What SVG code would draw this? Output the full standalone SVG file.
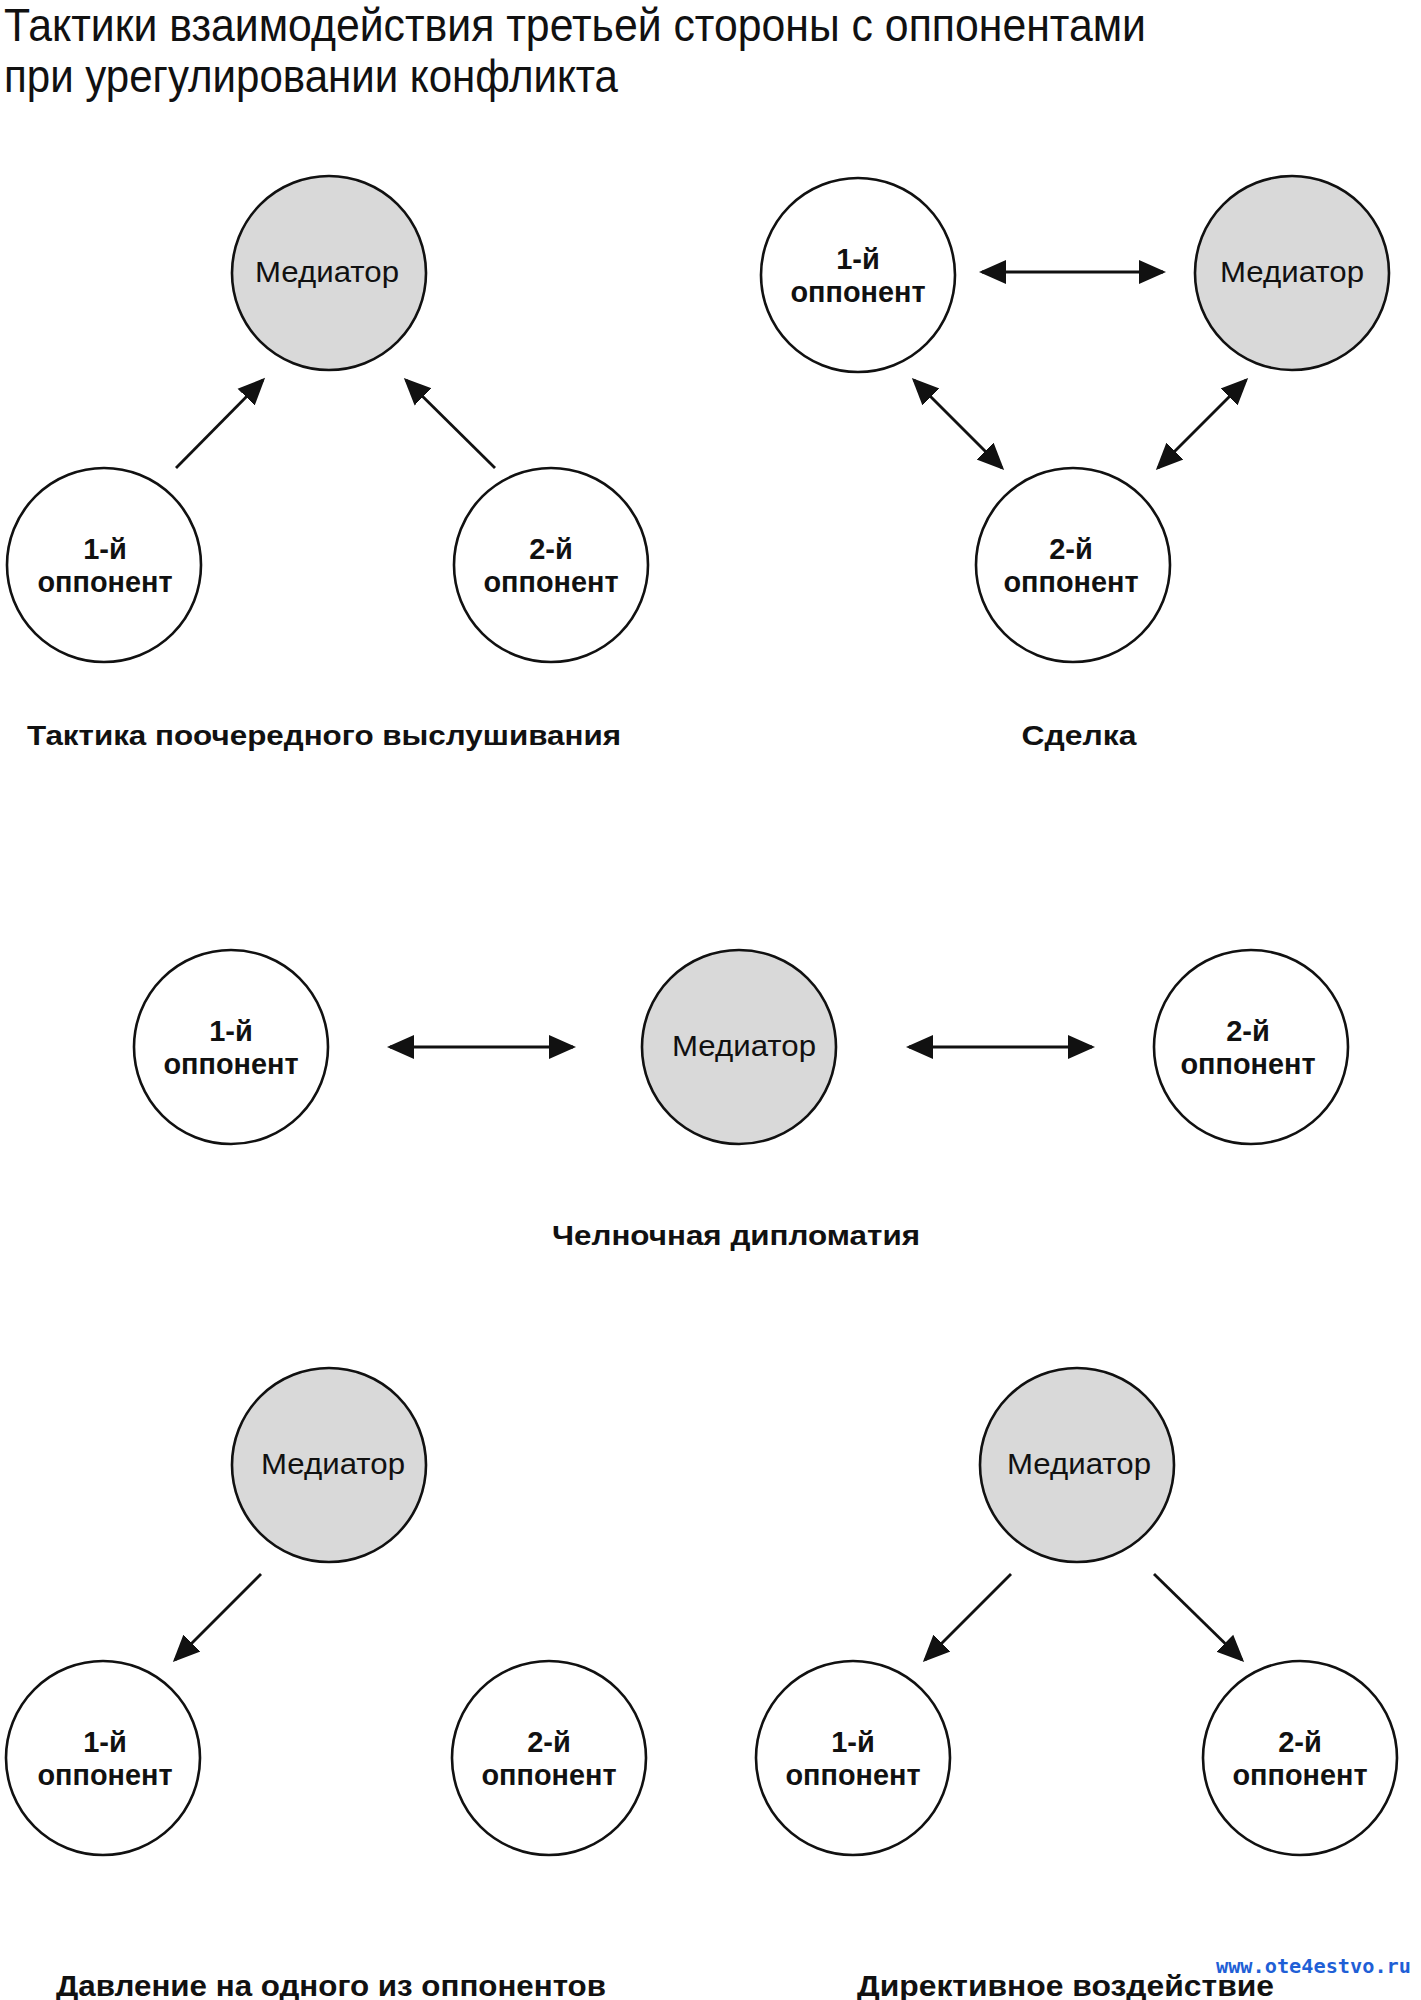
<svg xmlns="http://www.w3.org/2000/svg" width="1421" height="2000" viewBox="0 0 1421 2000">
<style>
.bg{fill:#ffffff}
.med{fill:#d9d9d9;stroke:#111;stroke-width:2.6}
.opp{fill:#ffffff;stroke:#111;stroke-width:2.6}
.mt{font-family:"Liberation Sans",Arial,sans-serif;font-size:30px;fill:#111;text-anchor:middle}
.ot{font-family:"Liberation Sans",Arial,sans-serif;font-size:29px;font-weight:bold;fill:#111;text-anchor:middle}
.title{font-family:"Liberation Sans Narrow","Liberation Sans",Arial,sans-serif;font-size:46px;fill:#111}
.lab{font-family:"Liberation Sans",Arial,sans-serif;font-size:28px;font-weight:bold;fill:#111}
.lab2{font-family:"Liberation Sans",Arial,sans-serif;font-size:30px;font-weight:bold;fill:#111}
.url{font-family:"DejaVu Sans Mono","Liberation Mono",monospace;font-size:19px;font-weight:bold;fill:#1f5fd6}
.conn line{stroke:#111;stroke-width:2.8;fill:none}
</style>
<defs>
<marker id="ah" markerUnits="userSpaceOnUse" markerWidth="28" markerHeight="26" refX="24" refY="12" orient="auto-start-reverse" viewBox="0 0 28 24">
<path d="M0,0 L27,12 L0,24 z" fill="#111"/>
</marker>
</defs>
<rect class="bg" x="0" y="0" width="1421" height="2000"/>

<g id="title">
<text class="title" x="4" y="41" textLength="1142" lengthAdjust="spacingAndGlyphs">Тактики взаимодействия третьей стороны с оппонентами</text>
<text class="title" x="4" y="92" textLength="614" lengthAdjust="spacingAndGlyphs">при урегулировании конфликта</text>
</g>

<!-- Section 1 -->
<g id="s1-mediator"><circle class="med" cx="329" cy="273" r="97"/><text class="mt" x="327" y="282" textLength="144" lengthAdjust="spacingAndGlyphs">Медиатор</text></g>
<g id="s1-opp1"><circle class="opp" cx="104" cy="565" r="97"/><text class="ot" x="105" y="559">1-й</text><text class="ot" x="105" y="592" textLength="135" lengthAdjust="spacingAndGlyphs">оппонент</text></g>
<g id="s1-opp2"><circle class="opp" cx="551" cy="565" r="97"/><text class="ot" x="551" y="559">2-й</text><text class="ot" x="551" y="592" textLength="135" lengthAdjust="spacingAndGlyphs">оппонент</text></g>
<g id="s1-label"><text class="lab" x="27" y="745" textLength="594" lengthAdjust="spacingAndGlyphs">Тактика поочередного выслушивания</text></g>

<!-- Section 2 -->
<g id="s2-opp1"><circle class="opp" cx="858" cy="275" r="97"/><text class="ot" x="858" y="269">1-й</text><text class="ot" x="858" y="302" textLength="135" lengthAdjust="spacingAndGlyphs">оппонент</text></g>
<g id="s2-mediator"><circle class="med" cx="1292" cy="273" r="97"/><text class="mt" x="1292" y="282" textLength="144" lengthAdjust="spacingAndGlyphs">Медиатор</text></g>
<g id="s2-opp2"><circle class="opp" cx="1073" cy="565" r="97"/><text class="ot" x="1071" y="559">2-й</text><text class="ot" x="1071" y="592" textLength="135" lengthAdjust="spacingAndGlyphs">оппонент</text></g>
<g id="s2-label"><text class="lab" x="1079" y="745" text-anchor="middle" textLength="115" lengthAdjust="spacingAndGlyphs">Сделка</text></g>

<!-- Section 3 -->
<g id="s3-opp1"><circle class="opp" cx="231" cy="1047" r="97"/><text class="ot" x="231" y="1041">1-й</text><text class="ot" x="231" y="1074" textLength="135" lengthAdjust="spacingAndGlyphs">оппонент</text></g>
<g id="s3-mediator"><circle class="med" cx="739" cy="1047" r="97"/><text class="mt" x="744" y="1056" textLength="144" lengthAdjust="spacingAndGlyphs">Медиатор</text></g>
<g id="s3-opp2"><circle class="opp" cx="1251" cy="1047" r="97"/><text class="ot" x="1248" y="1041">2-й</text><text class="ot" x="1248" y="1074" textLength="135" lengthAdjust="spacingAndGlyphs">оппонент</text></g>
<g id="s3-label"><text class="lab" x="736" y="1245" text-anchor="middle" textLength="368" lengthAdjust="spacingAndGlyphs">Челночная дипломатия</text></g>

<!-- Section 4 -->
<g id="s4-mediator"><circle class="med" cx="329" cy="1465" r="97"/><text class="mt" x="333" y="1474" textLength="144" lengthAdjust="spacingAndGlyphs">Медиатор</text></g>
<g id="s4-opp1"><circle class="opp" cx="103" cy="1758" r="97"/><text class="ot" x="105" y="1752">1-й</text><text class="ot" x="105" y="1785" textLength="135" lengthAdjust="spacingAndGlyphs">оппонент</text></g>
<g id="s4-opp2"><circle class="opp" cx="549" cy="1758" r="97"/><text class="ot" x="549" y="1752">2-й</text><text class="ot" x="549" y="1785" textLength="135" lengthAdjust="spacingAndGlyphs">оппонент</text></g>
<g id="s4-label"><text class="lab2" x="56" y="1996" textLength="550" lengthAdjust="spacingAndGlyphs">Давление на одного из оппонентов</text></g>

<!-- Section 5 -->
<g id="s5-mediator"><circle class="med" cx="1077" cy="1465" r="97"/><text class="mt" x="1079" y="1474" textLength="144" lengthAdjust="spacingAndGlyphs">Медиатор</text></g>
<g id="s5-opp1"><circle class="opp" cx="853" cy="1758" r="97"/><text class="ot" x="853" y="1752">1-й</text><text class="ot" x="853" y="1785" textLength="135" lengthAdjust="spacingAndGlyphs">оппонент</text></g>
<g id="s5-opp2"><circle class="opp" cx="1300" cy="1758" r="97"/><text class="ot" x="1300" y="1752">2-й</text><text class="ot" x="1300" y="1785" textLength="135" lengthAdjust="spacingAndGlyphs">оппонент</text></g>
<g id="s5-label"><text class="lab2" x="857" y="1996" textLength="417" lengthAdjust="spacingAndGlyphs">Директивное воздействие</text></g>

<g id="watermark"><text class="url" x="1216" y="1973" textLength="195" lengthAdjust="spacingAndGlyphs">www.ote4estvo.ru</text></g>

<g id="connectors" class="conn">
<line x1="176" y1="468" x2="263" y2="380" marker-end="url(#ah)"/>
<line x1="495" y1="468" x2="406" y2="380" marker-end="url(#ah)"/>
<line x1="982" y1="272" x2="1163" y2="272" marker-start="url(#ah)" marker-end="url(#ah)"/>
<line x1="914" y1="380" x2="1002" y2="468" marker-start="url(#ah)" marker-end="url(#ah)"/>
<line x1="1246" y1="380" x2="1158" y2="468" marker-start="url(#ah)" marker-end="url(#ah)"/>
<line x1="390" y1="1047" x2="573" y2="1047" marker-start="url(#ah)" marker-end="url(#ah)"/>
<line x1="909" y1="1047" x2="1092" y2="1047" marker-start="url(#ah)" marker-end="url(#ah)"/>
<line x1="261" y1="1574" x2="175" y2="1660" marker-end="url(#ah)"/>
<line x1="1011" y1="1574" x2="925" y2="1660" marker-end="url(#ah)"/>
<line x1="1154" y1="1574" x2="1242" y2="1660" marker-end="url(#ah)"/>
</g>
</svg>
